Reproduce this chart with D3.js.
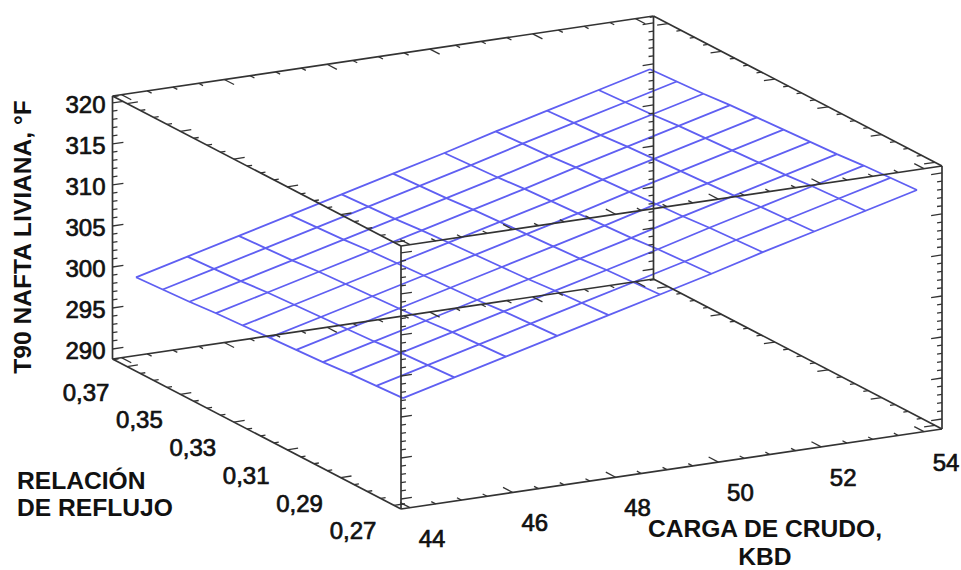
<!DOCTYPE html>
<html>
<head>
<meta charset="utf-8">
<style>
	html, body { margin: 0; padding: 0; background: #fff; }
	svg { display: block; }
	text { font-family: "Liberation Sans", Arial, sans-serif; fill: #111; }
	.num { font-size: 24px; stroke: #111; stroke-width: 0.7px; }
	.title { font-size: 24.6px; font-weight: bold; }
</style>
<script src="https://cdn.jsdelivr.net/npm/d3@7"></script>
</head>
<body>
<svg width="961" height="570"></svg>
<script>
let cargaVals = [44, 45, 46, 47, 48, 49, 50, 51, 52, 53, 54];  // grid lines, KBD
let reflujoVals = [0.27, 0.28, 0.29, 0.30, 0.31, 0.32, 0.33, 0.34, 0.35, 0.36, 0.37];
// T90, one row per reflujo value, one column per carga value
let t90Vals = [
	[301.7, 303.3, 304.9, 306.5, 308.1, 309.7, 311.3, 313.0, 314.6, 316.2, 317.8],
	[301.5, 303.1, 304.7, 306.3, 307.9, 309.5, 311.1, 312.8, 314.4, 316.0, 317.6],
	[301.3, 302.9, 304.5, 306.1, 307.7, 309.3, 310.9, 312.6, 314.2, 315.8, 317.4],
	[301.0, 302.6, 304.2, 305.8, 307.4, 309.0, 310.6, 312.3, 313.9, 315.5, 317.1],
	[300.8, 302.4, 304.0, 305.6, 307.2, 308.8, 310.4, 312.1, 313.7, 315.3, 316.9],
	[300.6, 302.2, 303.8, 305.4, 307.0, 308.6, 310.2, 311.9, 313.5, 315.1, 316.7],
	[300.4, 302.0, 303.6, 305.2, 306.8, 308.4, 310.0, 311.7, 313.3, 314.9, 316.5],
	[300.2, 301.8, 303.4, 305.0, 306.6, 308.2, 309.8, 311.5, 313.1, 314.7, 316.3],
	[299.9, 301.5, 303.1, 304.7, 306.3, 307.9, 309.5, 311.2, 312.8, 314.4, 316.0],
	[299.7, 301.3, 302.9, 304.5, 306.1, 307.7, 309.3, 311.0, 312.6, 314.2, 315.8],
	[299.5, 301.1, 302.7, 304.3, 305.9, 307.5, 309.1, 310.8, 312.4, 314.0, 315.6]
];

let xLabels = [44, 46, 48, 50, 52, 54];
let rLabels = [0.37, 0.35, 0.33, 0.31, 0.29, 0.27];
let zLabels = [320, 315, 310, 305, 300, 295, 290];

let xDomain = [43.825, 54.35];
let rDomain = [0.26738, 0.37543];
let zDomain = [288.78, 320.85];

let originX = 401, originY = 509;
let majorLen = 11, minorLen = 5;

// affine box projection, one scale per axis and screen direction
let xToX = d3.scaleLinear().domain(xDomain).range([0, 541]);
let xToY = d3.scaleLinear().domain(xDomain).range([0, -80]);
let rToX = d3.scaleLinear().domain(rDomain).range([0, -288.5]);
let rToY = d3.scaleLinear().domain(rDomain).range([0, -150]);
let zToY = d3.scaleLinear().domain(zDomain).range([0, -263]);

function project(x, r, z){
	return [
		originX + xToX(x) + rToX(r),
		originY + xToY(x) + rToY(r) + zToY(z)
	];
}

let svg = d3.select("svg");
let line = d3.line();

// surface
let surface = svg.append("g")
	.attr("fill", "none")
	.attr("stroke", "#5f5ff2")
	.attr("stroke-width", 1.8);

reflujoVals.forEach((r, i)=>{
	surface.append("path")
		.attr("d", line(cargaVals.map((x, j)=> project(x, r, t90Vals[i][j]))));
});
cargaVals.forEach((x, j)=>{
	surface.append("path")
		.attr("d", line(reflujoVals.map((r, i)=> project(x, r, t90Vals[i][j]))));
});

// box edges and their ticks
let box = svg.append("g")
	.attr("fill", "none")
	.attr("stroke", "#333")
	.attr("stroke-width", 1.7);

let xUnit = unit(project(xDomain[1], rDomain[0], zDomain[0]), project(xDomain[0], rDomain[0], zDomain[0]));
let rUnit = unit(project(xDomain[0], rDomain[1], zDomain[0]), project(xDomain[0], rDomain[0], zDomain[0]));

function unit(a, b){
	let dx = a[0] - b[0], dy = a[1] - b[1];
	let len = Math.sqrt(dx * dx + dy * dy);
	return [dx / len, dy / len];
}

function drawEdge(start, end, values, isMajor, pos, dir){
	box.append("path").attr("d", line([start, end]));
	values.forEach((v)=>{
		let p = pos(v);
		let len = isMajor(v) ? majorLen : minorLen;
		box.append("path")
			.attr("stroke-width", 1.3)
			.attr("d", line([p, [p[0] + dir[0] * len, p[1] + dir[1] * len]]));
	});
}

let xTicks = d3.range(44, 54.01, 0.5);
let rTicks = d3.range(0.27, 0.3751, 0.005);
let zTicks = d3.range(290, 320.01, 1);

let xMajor = (v)=> Math.abs(v % 2) < 0.01;
let rMajor = (v)=> Math.round(v * 1000) % 20 === 10;
let zMajor = (v)=> v % 5 === 0;

[[rDomain[0], zDomain[0], 1], [rDomain[1], zDomain[0], -1], [rDomain[0], zDomain[1], 1], [rDomain[1], zDomain[1], -1]].forEach((e)=>{
	drawEdge(project(xDomain[0], e[0], e[1]), project(xDomain[1], e[0], e[1]), xTicks, xMajor,
		(v)=> project(v, e[0], e[1]), [rUnit[0] * e[2], rUnit[1] * e[2]]);
});
[[xDomain[0], zDomain[0], 1], [xDomain[1], zDomain[0], -1], [xDomain[0], zDomain[1], 1], [xDomain[1], zDomain[1], -1]].forEach((e)=>{
	drawEdge(project(e[0], rDomain[0], e[1]), project(e[0], rDomain[1], e[1]), rTicks, rMajor,
		(v)=> project(e[0], v, e[1]), [xUnit[0] * e[2], xUnit[1] * e[2]]);
});
[[xDomain[0], rDomain[0], 1], [xDomain[0], rDomain[1], 1], [xDomain[1], rDomain[0], -1], [xDomain[1], rDomain[1], -1]].forEach((e)=>{
	drawEdge(project(e[0], e[1], zDomain[0]), project(e[0], e[1], zDomain[1]), zTicks, zMajor,
		(v)=> project(e[0], e[1], v), [xUnit[0] * e[2], xUnit[1] * e[2]]);
});

// tick labels
svg.selectAll(".zLabel")
	.data(zLabels)
	.enter()
	.append("text")
	.attr("class", "num")
	.attr("text-anchor", "end")
	.attr("x", (d)=> project(xDomain[0], rDomain[1], d)[0] - 7)
	.attr("y", (d)=> project(xDomain[0], rDomain[1], d)[1] + 10)
	.text((d)=> d);

svg.selectAll(".rLabel")
	.data(rLabels)
	.enter()
	.append("text")
	.attr("class", "num")
	.attr("text-anchor", "middle")
	.attr("x", (d)=> project(xDomain[0], d, zDomain[0])[0] - 41)
	.attr("y", (d)=> project(xDomain[0], d, zDomain[0])[1] + 34)
	.text((d)=> d.toFixed(2).replace(".", ","));

svg.selectAll(".xLabel")
	.data(xLabels)
	.enter()
	.append("text")
	.attr("class", "num")
	.attr("text-anchor", "middle")
	.attr("x", (d)=> project(d, rDomain[0], zDomain[0])[0] + 22)
	.attr("y", (d)=> project(d, rDomain[0], zDomain[0])[1] + 39)
	.text((d)=> d);

// axis titles
svg.append("text")
	.attr("class", "title")
	.attr("text-anchor", "middle")
	.attr("transform", "translate(31, 237) rotate(-90)")
	.text("T90 NAFTA LIVIANA, °F");

svg.append("text").attr("class", "title").attr("x", 17).attr("y", 489).text("RELACIÓN");
svg.append("text").attr("class", "title").attr("x", 17).attr("y", 516).text("DE REFLUJO");

svg.append("text").attr("class", "title").attr("text-anchor", "middle").attr("x", 765).attr("y", 537).text("CARGA DE CRUDO,");
svg.append("text").attr("class", "title").attr("text-anchor", "middle").attr("x", 765).attr("y", 564.6).text("KBD");
</script>
</body>
</html>
